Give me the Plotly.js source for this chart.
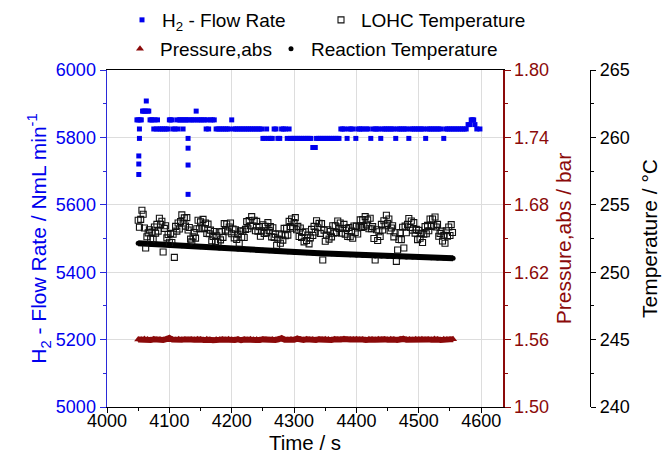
<!DOCTYPE html>
<html>
<head>
<meta charset="utf-8">
<script src="https://cdn.plot.ly/plotly-3.0.1.min.js"></script>
<style>html,body{margin:0;padding:0;background:#fff}#chart{width:665px;height:460px}</style>
</head>
<body>
<div id="chart"></div>
<script>
// ---- data ----
const flowTime = [4048,4050,4051,4051,4051,4052,4052,4053,4055,4057,4059,4061,4063,4065,4067,4069,4071,4073,4075,4077,
4079,4081,4083,4086,4089,4092,4095,4098,4100,4102,4104,4106,4109,4112,4114,4116,4118,4120,4122,4124,
4126,4128,4130,4130,4130,4130,4132,4135,4138,4141,4143,4145,4148,4151,4154,4157,4159,4161,4163,4166,
4169,4172,4175,4178,4181,4184,4187,4190,4193,4196,4200,4203,4206,4209,4212,4215,4218,4221,4224,4227,
4230,4233,4236,4239,4242,4245,4248,4250,4253,4256,4259,4262,4265,4268,4271,4274,4277,4280,4283,4286,
4289,4292,4294,4297,4300,4303,4306,4309,4312,4315,4318,4321,4324,4327,4330,4332,4334,4336,4339,4342,
4345,4348,4351,4354,4357,4360,4363,4366,4369,4372,4375,4378,4381,4385,4388,4391,4394,4399,4402,4405,
4408,4411,4416,4419,4423,4427,4430,4433,4436,4439,4442,4445,4448,4451,4454,4457,4460,4463,4466,4469,
4472,4475,4478,4481,4484,4487,4490,4493,4496,4499,4502,4505,4508,4511,4514,4517,4520,4523,4526,4529,
4532,4535,4540,4543,4546,4549,4552,4555,4558,4561,4564,4567,4570,4573,4576,4579,4582,4584,4586,4588,
4590,4593,4598];
const flowRate = [5852,5852,5690,5721,5745,5797,5825,5852,5852,5878,5878,5878,5908,5878,5878,5852,5852,5852,5825,5852,
5825,5852,5825,5825,5825,5825,5825,5825,5852,5852,5852,5825,5825,5852,5825,5852,5852,5852,5825,5852,
5852,5852,5797,5768,5718,5631,5852,5852,5852,5852,5878,5852,5852,5852,5852,5852,5825,5852,5825,5852,
5852,5852,5825,5825,5825,5825,5825,5825,5825,5825,5852,5825,5825,5825,5825,5825,5825,5825,5825,5825,
5825,5825,5825,5825,5825,5825,5825,5797,5797,5825,5797,5797,5797,5825,5825,5797,5797,5825,5825,5825,
5797,5825,5797,5797,5797,5797,5797,5797,5797,5797,5797,5797,5797,5797,5770,5770,5770,5797,5797,5797,
5797,5797,5797,5797,5797,5797,5797,5797,5797,5797,5825,5825,5825,5797,5825,5825,5825,5797,5825,5825,
5825,5825,5825,5825,5797,5825,5825,5825,5825,5797,5825,5825,5825,5825,5825,5825,5825,5797,5825,5825,
5825,5825,5825,5825,5797,5825,5825,5825,5825,5825,5825,5825,5825,5797,5825,5825,5825,5825,5825,5825,
5825,5825,5797,5825,5825,5825,5825,5825,5825,5825,5825,5825,5825,5825,5825,5838,5838,5852,5852,5852,
5838,5825,5825];

const lohcTime = [4050,4052,4054,4056,4058,4060,4062,4064,4066,4068,4070,4072,
4074,4076,4078,4080,4082,4084,4086,4088,4090,4092,4094,4096,
4098,4100,4102,4104,4106,4108,4110,4112,4114,4116,4118,4120,
4122,4124,4126,4128,4130,4132,4134,4136,4138,4140,4142,4144,
4146,4148,4150,4152,4154,4156,4158,4160,4162,4164,4166,4168,
4170,4172,4174,4176,4178,4180,4182,4184,4186,4188,4190,4192,
4194,4196,4198,4200,4202,4204,4206,4208,4210,4212,4214,4216,
4218,4220,4222,4224,4226,4228,4230,4232,4234,4236,4238,4240,
4242,4244,4246,4248,4250,4252,4254,4256,4258,4260,4262,4264,
4266,4268,4270,4272,4274,4276,4278,4280,4282,4284,4286,4288,
4290,4292,4294,4296,4298,4300,4302,4304,4306,4308,4310,4312,
4314,4316,4318,4320,4322,4324,4326,4328,4330,4332,4334,4336,
4338,4340,4342,4344,4346,4348,4350,4352,4354,4356,4358,4360,
4362,4364,4366,4368,4370,4372,4374,4376,4378,4380,4382,4384,
4386,4388,4390,4392,4394,4396,4398,4400,4402,4404,4406,4408,
4410,4412,4414,4416,4418,4420,4422,4424,4426,4428,4430,4432,
4434,4436,4438,4440,4442,4444,4446,4448,4450,4452,4454,4456,
4458,4460,4462,4464,4466,4468,4470,4472,4474,4476,4478,4480,
4482,4484,4486,4488,4490,4492,4494,4496,4498,4500,4502,4504,
4506,4508,4510,4512,4514,4516,4518,4520,4522,4524,4526,4528,
4530,4532,4534,4536,4538,4540,4542,4544,4546,4548,4550,4552,
4554];
const lohcTemp = [253.85,253.33,253.92,254.60,254.30,253.28,251.80,252.63,252.92,253.15,252.48,252.97,
252.45,253.35,252.90,253.55,253.05,254.00,253.55,253.78,251.50,253.25,253.45,252.55,
252.80,252.22,252.88,252.20,252.82,251.10,253.40,253.05,253.65,253.20,253.75,254.25,
253.65,254.03,253.42,254.05,253.13,253.32,252.45,252.25,252.62,252.95,252.53,253.22,
253.85,253.22,253.73,253.25,253.92,253.23,253.65,252.88,253.57,252.85,253.12,252.33,
252.65,253.02,252.28,252.70,252.22,252.98,252.40,253.02,252.58,253.60,253.12,253.58,
253.00,253.35,253.65,252.85,253.20,252.55,253.15,252.43,252.82,252.15,253.07,252.58,
253.05,252.57,253.18,253.75,253.22,253.83,253.45,254.12,253.43,253.85,253.08,253.77,
253.05,253.38,252.67,253.05,253.52,252.88,253.40,252.92,253.68,253.10,253.38,252.62,
253.30,252.58,252.82,252.00,252.45,252.85,252.15,252.77,252.38,253.25,252.70,253.25,
252.75,253.77,253.38,253.95,253.27,253.68,254.05,253.15,253.40,252.65,253.28,252.57,
252.95,252.25,253.00,252.35,252.75,252.10,252.55,253.18,252.72,253.40,252.98,253.82,
253.30,253.62,252.88,253.60,250.90,253.12,252.30,252.75,253.15,252.45,253.03,252.62,
253.45,252.90,253.45,252.95,253.80,253.25,253.65,252.90,253.25,253.55,252.82,253.23,
252.65,253.32,252.63,253.05,252.52,253.43,252.95,253.42,252.83,253.35,253.88,253.32,
253.90,253.38,254.12,253.50,253.88,253.22,254.00,253.22,253.38,252.50,250.90,253.15,
252.35,253.00,252.65,253.55,253.13,253.82,253.45,254.23,253.62,253.95,253.07,253.28,
253.45,252.62,252.93,250.80,251.65,252.43,252.95,252.42,253.33,251.80,253.42,252.93,
253.55,253.98,253.32,253.80,253.12,253.68,252.90,253.18,252.42,253.10,252.52,252.88,
252.20,252.82,253.38,252.85,253.47,253.08,253.95,253.40,253.95,253.45,254.10,253.35,
253.55,252.67,252.88,253.05,252.32,252.73,252.15,253.08,252.67,253.35,252.72,253.53,
252.95];

const reactTime = [4050,4060,4070,4080,4090,4100,4110,4120,4130,4140,
4150,4160,4170,4180,4190,4200,4210,4220,4230,4240,
4250,4260,4270,4280,4290,4300,4310,4320,4330,4340,
4350,4360,4370,4380,4390,4400,4410,4420,4430,4440,
4450,4460,4470,4480,4490,4500,4510,4520,4530,4540,4550,4555];
const reactTemp = [252.15,252.12,252.10,252.07,252.05,252.02,251.99,251.97,251.94,251.91,
251.88,251.86,251.83,251.80,251.78,251.75,251.72,251.70,251.67,251.65,
251.62,251.60,251.57,251.55,251.52,251.50,251.48,251.45,251.43,251.40,
251.38,251.36,251.34,251.31,251.29,251.27,251.25,251.23,251.21,251.20,
251.18,251.16,251.15,251.13,251.12,251.10,251.09,251.07,251.06,251.05,251.04,251.03];

const presTime = [4050,4055,4060,4065,4070,4075,4080,4085,4090,4095,
4100,4105,4110,4115,4120,4125,4130,4135,4140,4145,
4150,4155,4160,4165,4170,4175,4180,4185,4190,4195,
4200,4205,4210,4215,4220,4225,4230,4235,4240,4245,
4250,4255,4260,4265,4270,4275,4280,4285,4290,4295,
4300,4305,4310,4315,4320,4325,4330,4335,4340,4345,
4350,4355,4360,4365,4370,4375,4380,4385,4390,4395,
4400,4405,4410,4415,4420,4425,4430,4435,4440,4445,
4450,4455,4460,4465,4470,4475,4480,4485,4490,4495,
4500,4505,4510,4515,4520,4525,4530,4535,4540,4545,
4550,4555];
const presAbs = [1.5602,1.5598,1.5606,1.5600,1.5596,1.5603,1.5599,1.5601,1.5597,1.5604,
1.5614,1.5600,1.5597,1.5603,1.5599,1.5602,1.5596,1.5601,1.5598,1.5604,
1.5600,1.5597,1.5603,1.5599,1.5595,1.5602,1.5598,1.5601,1.5597,1.5603,
1.5599,1.5596,1.5602,1.5594,1.5600,1.5597,1.5603,1.5598,1.5601,1.5596,
1.5602,1.5598,1.5595,1.5601,1.5597,1.5603,1.5612,1.5599,1.5596,1.5602,
1.5598,1.5608,1.5600,1.5597,1.5603,1.5599,1.5601,1.5596,1.5602,1.5598,
1.5604,1.5600,1.5597,1.5603,1.5599,1.5601,1.5605,1.5598,1.5602,1.5600,
1.5603,1.5599,1.5601,1.5597,1.5604,1.5600,1.5598,1.5603,1.5599,1.5602,
1.5598,1.5604,1.5600,1.5597,1.5603,1.5606,1.5599,1.5601,1.5597,1.5604,
1.5600,1.5603,1.5598,1.5602,1.5599,1.5605,1.5601,1.5597,1.5603,1.5600,
1.5602,1.5604];

const seriesNames = ['H<sub>2</sub> - Flow Rate', 'LOHC Temperature', 'Pressure,abs', 'Reaction Temperature'];

// ---- styling ----
const FONT = 'Liberation Sans, Arial, sans-serif';
const BLUE = '#0000ee';
const BLUE_AX = '#2a2ad8';
const RED = '#8b0a0a';

const traces = [
  {x: reactTime, y: reactTemp, yaxis: 'y3', type: 'scatter', mode: 'lines', showlegend: false,
   line: {color: '#000', width: 6}, hoverinfo: 'skip'},
  {x: presTime, y: presAbs, yaxis: 'y2', type: 'scatter', mode: 'lines', showlegend: false,
   line: {color: RED, width: 6}, hoverinfo: 'skip'},
  {x: flowTime, y: flowRate, name: seriesNames[0], type: 'scatter', mode: 'markers', legend: 'legend',
   marker: {symbol: 'square', size: 5, color: BLUE}},
  {x: lohcTime, y: lohcTemp, name: seriesNames[1], yaxis: 'y3', type: 'scatter', mode: 'markers', legend: 'legend2',
   marker: {symbol: 'square-open', size: 6, color: '#111', line: {width: 1.1}}},
  {x: presTime, y: presAbs, name: seriesNames[2], yaxis: 'y2', type: 'scatter', mode: 'markers', legend: 'legend3',
   marker: {symbol: 'triangle-up', size: 7, color: RED}},
  {x: reactTime, y: reactTemp, name: seriesNames[3], yaxis: 'y3', type: 'scatter', mode: 'markers', legend: 'legend4',
   marker: {symbol: 'circle', size: 5, color: '#000'}}
];

const legBase = {orientation: 'h', xanchor: 'left', yanchor: 'middle', xref: 'container', yref: 'container',
  bgcolor: 'rgba(0,0,0,0)', font: {family: FONT, size: 19, color: '#000'}, itemwidth: 30};

const W = 523; // paper width in px
const layout = {
  width: 665, height: 460,
  margin: {l: 107, r: 35, t: 70, b: 53},
  paper_bgcolor: '#fff', plot_bgcolor: '#fff',
  font: {family: FONT, size: 18, color: '#000'},
  showlegend: true,
  legend:  Object.assign({}, legBase, {x: 122/665, y: 1 - 20/460}),
  legend2: Object.assign({}, legBase, {x: 321/665, y: 1 - 20/460}),
  legend3: Object.assign({}, legBase, {x: 120/665, y: 1 - 49/460}),
  legend4: Object.assign({}, legBase, {x: 271/665, y: 1 - 49/460}),
  xaxis: {
    domain: [0, 396/W], range: [4000, 4635], tick0: 4000, dtick: 100,
    showline: true, linecolor: '#000', linewidth: 1.2, mirror: true,
    ticks: 'outside', ticklen: 5, tickcolor: '#000',
    minor: {dtick: 50, ticks: 'outside', ticklen: 3, tickcolor: '#000', showgrid: false},
    showgrid: true, gridcolor: '#dddddd', zeroline: false,
    ticklabelstandoff: -8,
    tickfont: {family: FONT, size: 18, color: '#000'},
    title: {text: 'Time / s', font: {family: FONT, size: 20.5, color: '#000'}, standoff: 0}
  },
  yaxis: {
    range: [5000, 6000], tick0: 5000, dtick: 200,
    showline: true, linecolor: BLUE_AX, linewidth: 1.5,
    ticks: 'outside', ticklen: 6, tickcolor: BLUE_AX,
    minor: {dtick: 100, ticks: 'outside', ticklen: 3, tickcolor: BLUE_AX, showgrid: false},
    showgrid: true, gridcolor: '#dddddd', zeroline: false,
    tickfont: {family: FONT, size: 18, color: BLUE},
    title: {text: 'H<sub>2</sub> - Flow Rate / NmL min<sup>-1</sup>', font: {family: FONT, size: 21, color: BLUE}, standoff: 3}
  },
  yaxis2: {
    overlaying: 'y', side: 'right', anchor: 'x',
    range: [1.50, 1.80], tick0: 1.50, dtick: 0.06, tickformat: '.2f',
    showline: true, linecolor: RED, linewidth: 1.5,
    ticks: 'outside', ticklen: 6, tickcolor: RED,
    minor: {dtick: 0.03, ticks: 'outside', ticklen: 3, tickcolor: RED, showgrid: false},
    showgrid: false, zeroline: false,
    tickfont: {family: FONT, size: 18, color: RED},
    title: {text: 'Pressure,abs / bar', font: {family: FONT, size: 21, color: RED}, standoff: 8}
  },
  yaxis3: {
    overlaying: 'y', side: 'right', anchor: 'free', position: 483/W,
    range: [240, 265], tick0: 240, dtick: 5,
    showline: true, linecolor: '#000', linewidth: 1.2,
    ticks: 'outside', ticklen: 5, tickcolor: '#000',
    minor: {dtick: 2.5, ticks: 'outside', ticklen: 3, tickcolor: '#000', showgrid: false},
    showgrid: false, zeroline: false,
    tickfont: {family: FONT, size: 18, color: '#000'},
    title: {text: 'Temperature / °C', font: {family: FONT, size: 21, color: '#000'}, standoff: 13}
  }
};

Plotly.newPlot('chart', traces, layout, {staticPlot: true, displayModeBar: false});
</script>
</body>
</html>
